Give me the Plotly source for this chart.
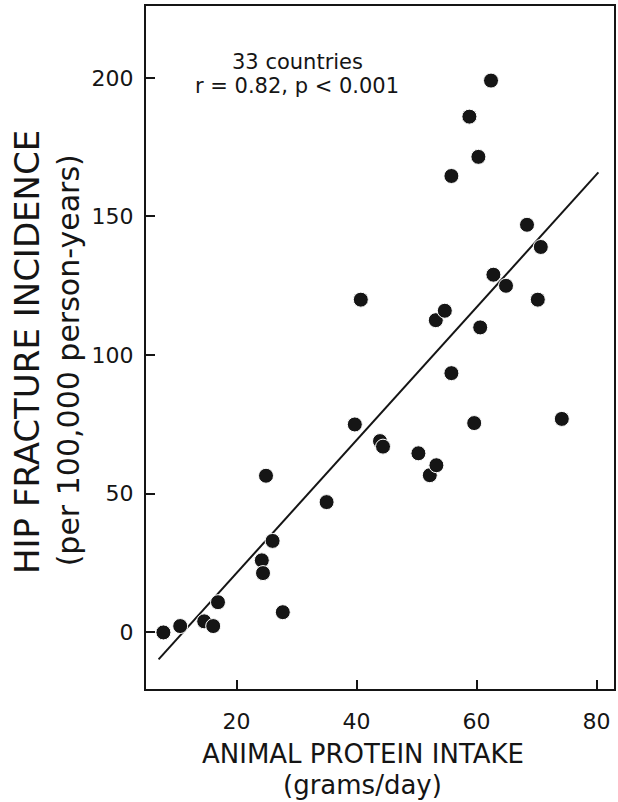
import plotly.graph_objects as go

# Data
protein_intake = [7.8, 10.6, 14.6, 16.1, 16.9, 24.2, 24.4, 24.9, 26.0, 27.7,
                  35.0, 39.7, 40.7, 43.9, 44.4, 50.3, 52.2, 53.3, 53.2, 54.7,
                  55.8, 55.8, 58.8, 59.6, 60.3, 60.6, 62.4, 62.8, 64.9, 68.4,
                  70.2, 70.7, 74.2]
hip_fracture = [0.0, 2.3, 4.0, 2.3, 10.9, 26.0, 21.4, 56.5, 33.0, 7.3,
                47.0, 75.0, 120.0, 69.0, 67.0, 64.6, 56.7, 60.3, 112.6, 116.0,
                93.5, 164.6, 186.0, 75.5, 171.5, 110.0, 199.0, 129.0, 125.0, 147.0,
                120.0, 139.0, 77.0]
fit_x = [7.0, 80.3]
fit_y = [-9.7, 165.9]

x_ticks = [20, 40, 60, 80]
y_ticks = [0, 50, 100, 150, 200]

FONT = "DejaVu Sans"
INK = "#151515"

fig = go.Figure()
fig.add_trace(go.Scatter(x=fit_x, y=fit_y, mode="lines",
                         line=dict(color=INK, width=2), showlegend=False,
                         hoverinfo="skip"))
fig.add_trace(go.Scatter(x=protein_intake, y=hip_fracture, mode="markers",
                         marker=dict(size=15, color=INK,
                                     line=dict(color="white", width=1)),
                         showlegend=False))

L, R, T, B = 146, 616, 6, 689
W, H = 618, 802
pw, ph = R - L, B - T

def px(xp):
    return (xp - L) / pw

def py(yp):
    return (B - yp) / ph

annots = [
    dict(text="33 countries", x=px(298), y=py(62), size=21, angle=0),
    dict(text="r = 0.82, p < 0.001", x=px(297.5), y=py(86.5), size=21, angle=0),
    dict(text="ANIMAL PROTEIN INTAKE", x=px(363.5), y=py(754), size=26, angle=0),
    dict(text="(grams/day)", x=px(363.5), y=py(785), size=26, angle=0),
    dict(text="HIP FRACTURE INCIDENCE", x=px(26), y=py(352.5), size=34, angle=-90),
    dict(text="(per 100,000 person-years)", x=px(68), y=py(360), size=30, angle=-90),
]
for a in annots:
    fig.add_annotation(text=a["text"], x=a["x"], y=a["y"], xref="paper", yref="paper",
                       xanchor="center", yanchor="middle", showarrow=False,
                       textangle=a["angle"],
                       font=dict(family=FONT, size=a["size"], color=INK))

axis_common = dict(showline=True, linecolor=INK, linewidth=2, mirror=True,
                   ticks="inside", ticklen=9, tickwidth=2, tickcolor=INK,
                   showgrid=False, zeroline=False,
                   tickfont=dict(family=FONT, size=22, color=INK))

fig.update_xaxes(range=[4.9, 82.9], tickvals=x_ticks, ticklabelstandoff=12,
                 **axis_common)
fig.update_yaxes(range=[-20.4, 225.9], tickvals=y_ticks, ticklabelstandoff=6,
                 **axis_common)

fig.update_layout(width=W, height=H,
                  margin=dict(l=L, r=W - R, t=T, b=H - B, pad=0),
                  plot_bgcolor="white", paper_bgcolor="white",
                  font=dict(family=FONT, color=INK))

fig.write_html("out.html",
               config={"displayModeBar": False},
               post_script="document.body.style.margin='0';"
                           "document.body.style.padding='0';"
                           "document.body.style.overflow='hidden';")
